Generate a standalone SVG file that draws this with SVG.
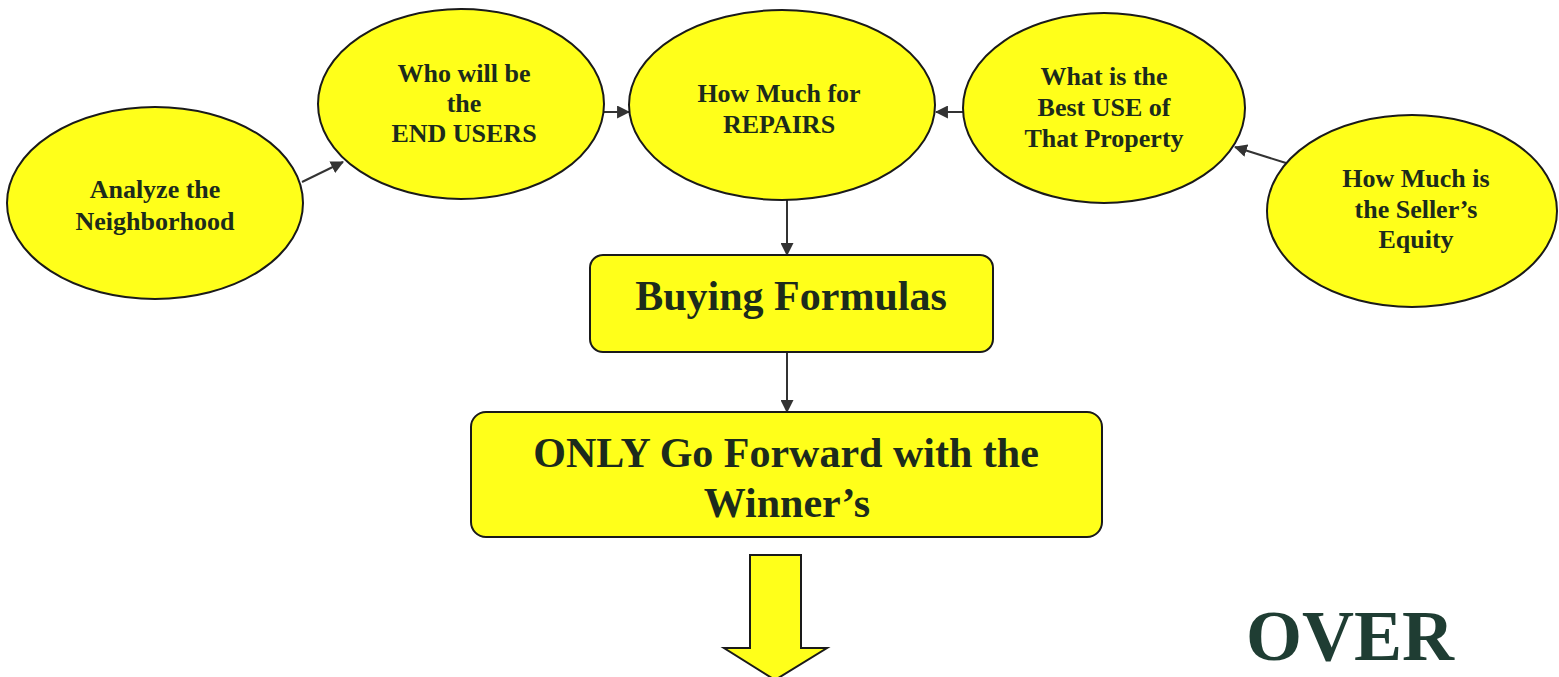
<svg xmlns="http://www.w3.org/2000/svg" width="1559" height="677" viewBox="0 0 1559 677">
<style>
.node{fill:#ffff1a;stroke:#1a1a1a;stroke-width:2}
.t{font-family:"Liberation Serif","Times New Roman",serif;font-weight:bold;fill:#1c2b1c;text-anchor:middle}
.s{font-size:26px}
.b{font-size:42px}
.conn{stroke:#333;stroke-width:2;fill:none;marker-end:url(#ah)}
</style>
<defs>
<marker id="ah" viewBox="0 0 12 12" refX="11" refY="6" markerWidth="13" markerHeight="13" markerUnits="userSpaceOnUse" orient="auto">
<path d="M0,0 L12,6 L0,12 z" fill="#333"/>
</marker>
</defs>
<rect width="1559" height="677" fill="#ffffff"/>
<g id="connectors">
<line class="conn" x1="302" y1="182" x2="343" y2="162"/>
<line class="conn" x1="604" y1="112" x2="629" y2="112"/>
<line class="conn" x1="963" y1="112" x2="936" y2="112"/>
<line class="conn" x1="1286" y1="163" x2="1235" y2="147"/>
<line class="conn" x1="787" y1="200" x2="787" y2="255"/>
<line class="conn" x1="787" y1="352" x2="787" y2="412"/>
</g>
<g id="n1">
<ellipse class="node" cx="155" cy="203" rx="148" ry="96"/>
<text class="t s" x="155" y="198">Analyze the</text>
<text class="t s" x="155" y="230">Neighborhood</text>
</g>
<g id="n2">
<ellipse class="node" cx="461" cy="104" rx="143" ry="95"/>
<text class="t s" x="464" y="82">Who will be</text>
<text class="t s" x="464" y="112">the</text>
<text class="t s" x="464" y="142">END USERS</text>
</g>
<g id="n3">
<ellipse class="node" cx="782" cy="105" rx="153" ry="95"/>
<text class="t s" x="779" y="102">How Much for</text>
<text class="t s" x="779" y="133">REPAIRS</text>
</g>
<g id="n4">
<ellipse class="node" cx="1104" cy="108" rx="141" ry="95"/>
<text class="t s" x="1104" y="85">What is the</text>
<text class="t s" x="1104" y="116">Best USE of</text>
<text class="t s" x="1104" y="147">That Property</text>
</g>
<g id="n5">
<ellipse class="node" cx="1412" cy="211" rx="145" ry="96"/>
<text class="t s" x="1416" y="187">How Much is</text>
<text class="t s" x="1416" y="218">the Seller’s</text>
<text class="t s" x="1416" y="248">Equity</text>
</g>
<g id="n6">
<rect class="node" x="590" y="255" width="403" height="97" rx="13"/>
<text class="t b" x="791" y="310">Buying Formulas</text>
</g>
<g id="n7">
<rect class="node" x="471" y="412" width="631" height="125" rx="15"/>
<text class="t b" x="786" y="467">ONLY Go Forward with the</text>
<text class="t b" x="787" y="517">Winner’s</text>
</g>
<g id="bigarrow">
<path class="node" d="M750,555 L801,555 L801,648 L827,648 L775,680 L724,648 L750,648 Z"/>
</g>
<g id="over">
<text class="t" x="1350" y="660" style="font-size:72px;fill:#1f3d33">OVER</text>
</g>
</svg>
